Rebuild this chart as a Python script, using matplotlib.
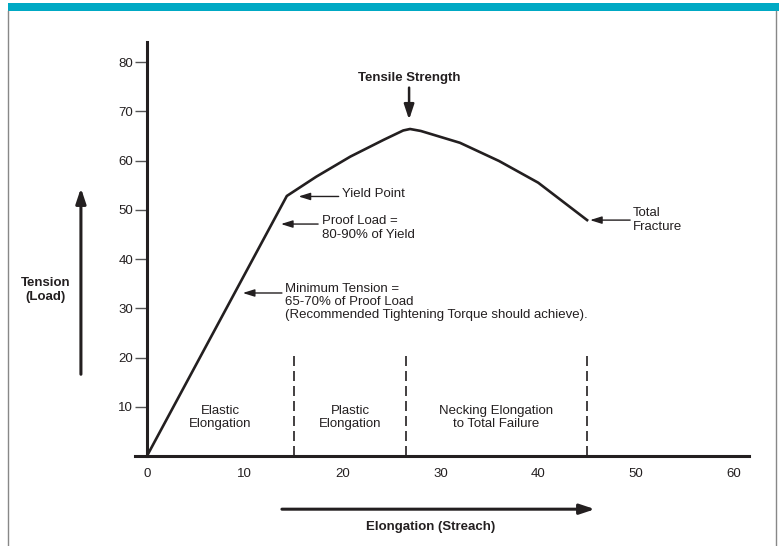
import matplotlib
matplotlib.use("Agg")
import matplotlib.pyplot as plt
from matplotlib.lines import Line2D
from matplotlib.patches import Rectangle

plt.rcParams["font.family"] = ["Liberation Sans Narrow", "Liberation Sans", "DejaVu Sans"]

# stress-strain curve
curve_x = [0, 14.3, 17.3, 20.8, 24.2, 26.2, 26.9, 28.0, 32.0, 36.0, 40.0, 45.0]
curve_y = [0, 52.8, 56.7, 60.8, 64.2, 66.1, 66.4, 66.0, 63.6, 59.9, 55.5, 47.9]

region_bounds = [15, 26.5, 45]
region_top = 21
region_labels = ["Elastic\nElongation", "Plastic\nElongation", "Necking Elongation\nto Total Failure"]
region_label_x = [7.5, 20.8, 35.7]

x_ticks = [0, 10, 20, 30, 40, 50, 60]
y_ticks = [10, 20, 30, 40, 50, 60, 70, 80]

INK = "#231f20"

fig = plt.figure(figsize=(7.79, 5.46), dpi=100)
ax = fig.add_axes([0.1698, 0.1468, 0.7973, 0.7847])
ax.set_xlim(-1.5, 62)
ax.set_ylim(-2, 85)

# frame: teal bar on top, thin grey sides
fig.add_artist(Rectangle((8 / 779, 1 - 11 / 546), 771 / 779, 8 / 546,
                         transform=fig.transFigure, color="#00a9c4", lw=0))
fig.add_artist(Line2D([8 / 779, 8 / 779], [0, 1 - 11 / 546], transform=fig.transFigure,
                      color="#888888", lw=1))
fig.add_artist(Line2D([776 / 779, 776 / 779], [0, 1 - 11 / 546], transform=fig.transFigure,
                      color="#888888", lw=1))

for s in ["top", "right"]:
    ax.spines[s].set_visible(False)
ax.spines["left"].set_position(("data", 0))
ax.spines["bottom"].set_position(("data", 0))
ax.spines["left"].set_bounds(0, 84)
ax.spines["bottom"].set_bounds(-1.2, 61.6)
ax.spines["left"].set_linewidth(2.2)
ax.spines["bottom"].set_linewidth(2.2)
ax.spines["left"].set_color(INK)
ax.spines["bottom"].set_color(INK)

ax.set_yticks(y_ticks)
ax.set_yticklabels([str(v) for v in y_ticks])
ax.set_xticks(x_ticks)
ax.set_xticklabels([str(v) for v in x_ticks])
ax.tick_params(axis="y", direction="out", length=9, width=1, color="#555555",
               labelsize=9.5, labelcolor=INK, pad=1)
ax.tick_params(axis="x", length=0, labelsize=9.5, labelcolor=INK, pad=9)

ax.plot(curve_x, curve_y, color=INK, lw=1.9, solid_joinstyle="round")

for xb in region_bounds:
    ax.plot([xb, xb], [0, region_top], color=INK, lw=1.2, ls=(0, (6, 3)))

for lab, xl in zip(region_labels, region_label_x):
    ax.text(xl, 7.8, lab, ha="center", va="center", fontsize=9.5, color=INK, linespacing=1.15)

arrow = dict(arrowstyle="-|>,head_length=0.7,head_width=0.22", color=INK, lw=1, shrinkA=0, shrinkB=0)
txt = dict(fontsize=9.5, color=INK, linespacing=1.15)

ax.annotate("", xy=(26.8, 68.3), xytext=(26.8, 74.8),
            arrowprops=dict(arrowstyle="-|>,head_length=0.9,head_width=0.3", color=INK, lw=1.8,
                            shrinkA=0, shrinkB=0))
ax.text(26.8, 76.8, "Tensile Strength", ha="center", va="center", fontsize=9.5,
        fontweight="bold", color=INK)

ax.annotate("", xy=(15.5, 52.7), xytext=(19.6, 52.7), arrowprops=arrow)
ax.text(19.9, 53.2, "Yield Point", ha="left", va="center", **txt)

ax.annotate("", xy=(13.7, 47.1), xytext=(17.5, 47.1), arrowprops=arrow)
ax.text(17.9, 46.3, "Proof Load =\n80-90% of Yield", ha="left", va="center", **txt)

ax.annotate("", xy=(9.8, 33.1), xytext=(13.8, 33.1), arrowprops=arrow)
ax.text(14.1, 31.3, "Minimum Tension =\n65-70% of Proof Load\n(Recommended Tightening Torque should achieve).",
        ha="left", va="center", **txt)

ax.annotate("", xy=(45.3, 47.9), xytext=(49.4, 47.9), arrowprops=arrow)
ax.text(49.7, 47.9, "Total\nFracture", ha="left", va="center", **txt)

# axis direction arrows and titles
ax.annotate("", xy=(-6.75, 54.4), xytext=(-6.75, 16.6), annotation_clip=False,
            arrowprops=dict(arrowstyle="-|>,head_length=0.9,head_width=0.3", color=INK, lw=2.2,
                            shrinkA=0, shrinkB=0))
ax.text(-10.4, 33.7, "Tension\n(Load)", ha="center", va="center", fontsize=9.5,
        fontweight="bold", color=INK, linespacing=1.15)

ax.annotate("", xy=(45.8, -10.8), xytext=(13.8, -10.8), annotation_clip=False,
            arrowprops=dict(arrowstyle="-|>,head_length=0.9,head_width=0.3", color=INK, lw=2.2,
                            shrinkA=0, shrinkB=0))
ax.text(29.0, -14.4, "Elongation (Streach)", ha="center", va="center", fontsize=9.5,
        fontweight="bold", color=INK, clip_on=False)

fig.savefig("out.png", dpi=100)
